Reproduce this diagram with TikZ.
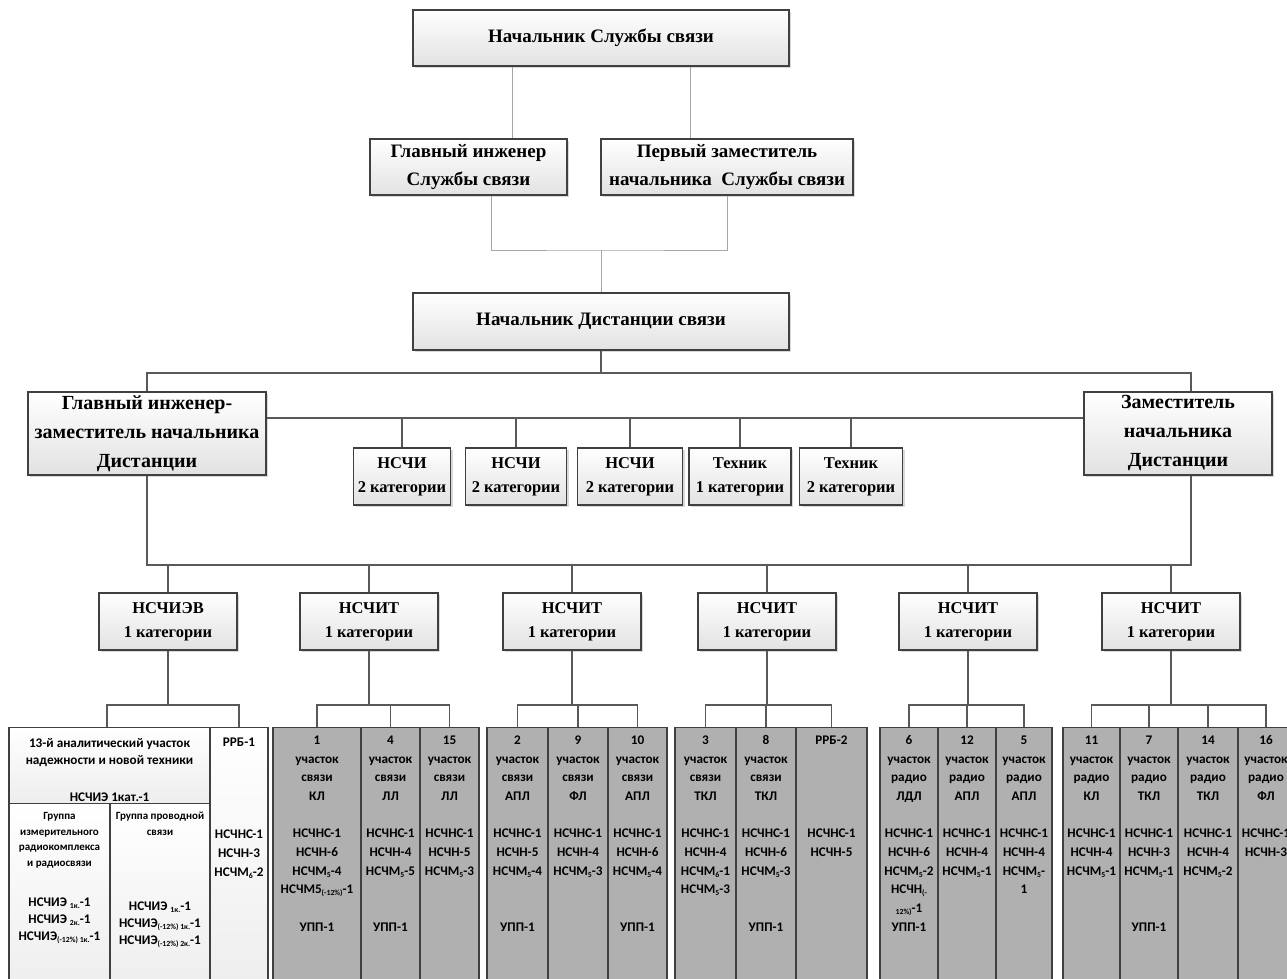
\documentclass[tikz,border=0pt]{standalone}
\usepackage{fontspec}
\setmainfont{Liberation Serif}
\newfontfamily\calfont{Carlito}
\usetikzlibrary{positioning,shadows}
\definecolor{frame}{HTML}{404040}
\definecolor{wire}{HTML}{595959}
\definecolor{lightwire}{HTML}{A6A6A6}
\definecolor{boxbot}{HTML}{E2E2E2}
\definecolor{colgray}{HTML}{B0B0B0}
\newcommand\lo[1]{\raisebox{-0.3ex}{\fontsize{7.8}{8}\selectfont #1}}

\tikzset{
  post/.style={draw=frame,line width=1.5pt,top color=white,bottom color=boxbot,
    drop shadow={shadow xshift=2pt,shadow yshift=-2pt,opacity=0.3},
    align=center,inner sep=0pt,font=\bfseries\fontsize{19}{28}\selectfont},
  bigpost/.style={post,font=\bfseries\fontsize{20}{29}\selectfont,minimum height=83pt},
  small/.style={post,font=\bfseries\fontsize{16.5}{24}\selectfont,minimum height=57pt},
  ln/.style={draw=wire,line width=1.5pt},
  lnthin/.style={draw=lightwire,line width=1pt},
  col/.style={draw=frame,line width=1.2pt,fill=colgray,minimum height=270pt,anchor=north,inner sep=0pt},
  wcol/.style={col,fill=none,top color=white,bottom color=white!93!black},
  coltxt/.style={font=\calfont\bfseries\fontsize{13.2}{18.7}\selectfont,align=center,inner sep=0pt},
  % text anchored at the baseline of its last line, k = index of that line
  coltop/.style={coltxt,anchor=base,yshift=-17.3pt-18.7pt*#1},
  hdtxt/.style={font=\calfont\bfseries\fontsize{11}{15.7}\selectfont,align=center,inner sep=0pt},
}

\begin{document}
\begin{tikzpicture}[x=1pt,y=-1pt]
\useasboundingbox (0,0) rectangle (1287,979);

% upper part
\node[post,minimum width=376pt,minimum height=56pt] (nss) at (601,38) {Начальник Службы связи};
\node[post,minimum width=197pt,minimum height=56pt] (gis) at (468.5,167) {Главный инженер\\Службы связи};
\node[post,minimum width=252pt,minimum height=56pt] (pz) at (727,167) {Первый заместитель\\начальника\ \ Службы связи};
\node[post,minimum width=376pt,minimum height=57pt] (nds) at (601,321.5) {Начальник Дистанции связи};

\draw[lnthin] ([xshift=43.5pt]gis.north) -- ([xshift=43.5pt]gis.north |- nss.south);
\draw[lnthin] ([xshift=-37pt]pz.north) -- ([xshift=-37pt]pz.north |- nss.south);
\coordinate (j1) at (601,250);
\draw[lnthin] ([xshift=22.5pt]gis.south) |- (j1) -| (pz.south);
\draw[lnthin] (j1) -- (nds.north);

% deputies and engineers
\node[bigpost,minimum width=238pt] (glz) at (147,433.5) {Главный инженер-\\заместитель начальника\\Дистанции};
\node[bigpost,minimum width=188pt] (zn) at (1178,433.5) {Заместитель\\начальника\\Дистанции};

\node[small,minimum width=97pt] (s1) at (402,476.5) {НСЧИ\\2 категории};
\node[small,minimum width=101pt] (s2) at (516,476.5) {НСЧИ\\2 категории};
\node[small,minimum width=105pt] (s3) at (630,476.5) {НСЧИ\\2 категории};
\node[small,minimum width=102pt] (s4) at (740,476.5) {Техник\\1 категории};
\node[small,minimum width=103pt] (s5) at (851,476.5) {Техник\\2 категории};

\coordinate (b1) at (0,373);
\coordinate (b2) at (0,418);
\coordinate (b3) at (0,565);
\coordinate (b4) at (0,705);
\draw[ln] (nds.south) -- (nds.south |- b1);
\draw[ln] (glz.north) |- ([xshift=13pt]zn.north |- b1) -- ([xshift=13pt]zn.north);
\draw[ln] ([yshift=15.5pt]glz.east) -- ([yshift=15.5pt]zn.west);
\foreach \i in {1,...,5} \draw[ln] (s\i.north) -- (s\i.north |- b2);

% heads of sections
\node[small,minimum width=138pt] (t1) at (168,621.5) {НСЧИЭВ\\1 категории};
\node[small,minimum width=138pt] (t2) at (369,621.5) {НСЧИТ\\1 категории};
\node[small,minimum width=138pt] (t3) at (572,621.5) {НСЧИТ\\1 категории};
\node[small,minimum width=138pt] (t4) at (767,621.5) {НСЧИТ\\1 категории};
\node[small,minimum width=138pt] (t5) at (968,621.5) {НСЧИТ\\1 категории};
\node[small,minimum width=138pt] (t6) at (1171,621.5) {НСЧИТ\\1 категории};

\draw[ln] (glz.south) |- ([xshift=13pt]zn.south |- b3) -- ([xshift=13pt]zn.south);
\foreach \i in {1,...,6} \draw[ln] (t\i.north) -- (t\i.north |- b3);
\foreach \i in {1,...,6} \draw[ln] (t\i.south) -- (t\i.south |- b4);

% group 1
\node[wcol,minimum width=201pt,minimum height=76pt] (g1top) at (109.5,727) {};
\node[wcol,minimum width=101pt,minimum height=194pt] (g1l) at (59.5,803) {};
\node[wcol,minimum width=100pt,minimum height=194pt] (g1r) at (160,803) {};
\node[wcol,minimum width=58pt] (g1b) at (239,727) {};
\node[coltxt,below=11pt of g1top.north,font=\calfont\bfseries\fontsize{13.2}{17.5}\selectfont] {13-й аналитический участок\\надежности и новой техники\\[19pt]НСЧИЭ 1кат.-1};
\node[hdtxt,below=9pt of g1l.north] {Группа\\измерительного\\радиокомплекса\\и радиосвязи};
\node[coltxt,below=95pt of g1l.north,font=\calfont\bfseries\fontsize{13.2}{17}\selectfont] {НСЧИЭ \lo{1к.}-1\\НСЧИЭ \lo{2к.}-1\\НСЧИЭ\lo{(-12\%) 1к.}-1};
\node[hdtxt,below=9pt of g1r.north] {Группа проводной\\связи};
\node[coltxt,below=99pt of g1r.north,font=\calfont\bfseries\fontsize{13.2}{17}\selectfont] {НСЧИЭ \lo{1к.}-1\\НСЧИЭ\lo{(-12\%) 1к.}-1\\НСЧИЭ\lo{(-12\%) 2к.}-1};
\node[coltxt,below=11pt of g1b.north] {РРБ-1};
\node[coltxt,below=103pt of g1b.north] {НСЧНС-1\\НСЧН-3\\НСЧМ\lo{6}-2};
\draw[ln] ([xshift=-2.5pt]g1top.north) |- (g1b.north |- b4) -- (g1b.north);

% group 2
\node[col,minimum width=88pt] (c21) at (317,727) {};
\node[col,minimum width=59pt] (c22) at (390.5,727) {};
\node[col,minimum width=59pt] (c23) at (449.5,727) {};
\node[coltop=10] at (c21.north) {1\\участок\\связи\\КЛ\\[18.7pt]НСЧНС-1\\НСЧН-6\\НСЧМ\lo{5}-4\\НСЧМ5\lo{(-12\%)}-1\\[18.7pt]УПП-1};
\node[coltop=10] at (c22.north) {4\\участок\\связи\\ЛЛ\\[18.7pt]НСЧНС-1\\НСЧН-4\\НСЧМ\lo{5}-5\\[37.4pt]УПП-1};
\node[coltop=7] at (c23.north) {15\\участок\\связи\\ЛЛ\\[18.7pt]НСЧНС-1\\НСЧН-5\\НСЧМ\lo{5}-3};
\draw[ln] (c21.north) |- (c23.north |- b4) -- (c23.north);
\draw[ln] (c22.north) -- (c22.north |- b4);

% group 3
\node[col,minimum width=61pt] (c31) at (517.5,727) {};
\node[col,minimum width=60pt] (c32) at (578,727) {};
\node[col,minimum width=59pt] (c33) at (637.5,727) {};
\node[coltop=10] at (c31.north) {2\\участок\\связи\\АПЛ\\[18.7pt]НСЧНС-1\\НСЧН-5\\НСЧМ\lo{5}-4\\[37.4pt]УПП-1};
\node[coltop=7] at (c32.north) {9\\участок\\связи\\ФЛ\\[18.7pt]НСЧНС-1\\НСЧН-4\\НСЧМ\lo{5}-3};
\node[coltop=10] at (c33.north) {10\\участок\\связи\\АПЛ\\[18.7pt]НСЧНС-1\\НСЧН-6\\НСЧМ\lo{5}-4\\[37.4pt]УПП-1};
\draw[ln] (c31.north) |- (c33.north |- b4) -- (c33.north);
\draw[ln] (c32.north) -- (c32.north |- b4);

% group 4
\node[col,minimum width=61pt] (c41) at (705.5,727) {};
\node[col,minimum width=60pt] (c42) at (766,727) {};
\node[col,minimum width=71pt] (c43) at (831.5,727) {};
\node[coltop=8] at (c41.north) {3\\участок\\связи\\ТКЛ\\[18.7pt]НСЧНС-1\\НСЧН-4\\НСЧМ\lo{6}-1\\НСЧМ\lo{5}-3};
\node[coltop=10] at (c42.north) {8\\участок\\связи\\ТКЛ\\[18.7pt]НСЧНС-1\\НСЧН-6\\НСЧМ\lo{5}-3\\[37.4pt]УПП-1};
\node[coltop=6] at (c43.north) {РРБ-2\\[74.8pt]НСЧНС-1\\НСЧН-5};
\draw[ln] (c41.north) |- (c43.north |- b4) -- (c43.north);
\draw[ln] (c42.north) -- (c42.north |- b4);

% group 5
\node[col,minimum width=58pt] (c51) at (909,727) {};
\node[col,minimum width=58pt] (c52) at (967,727) {};
\node[col,minimum width=56pt] (c53) at (1024,727) {};
\node[coltop=10] at (c51.north) {6\\участок\\радио\\ЛДЛ\\[18.7pt]НСЧНС-1\\НСЧН-6\\НСЧМ\lo{5}-2\\НСЧН\lo{(-}\\\lo{12\%)}-1\\УПП-1};
\node[coltop=7] at (c52.north) {12\\участок\\радио\\АПЛ\\[18.7pt]НСЧНС-1\\НСЧН-4\\НСЧМ\lo{5}-1};
\node[coltop=8] at (c53.north) {5\\участок\\радио\\АПЛ\\[18.7pt]НСЧНС-1\\НСЧН-4\\НСЧМ\lo{5}-\\1};
\draw[ln] (c51.north) |- (c53.north |- b4) -- (c53.north);
\draw[ln] (c52.north) -- (c52.north |- b4);

% group 6
\node[col,minimum width=57pt] (c61) at (1091.5,727) {};
\node[col,minimum width=58pt] (c62) at (1149,727) {};
\node[col,minimum width=60pt] (c63) at (1208,727) {};
\node[col,minimum width=56pt] (c64) at (1266,727) {};
\node[coltop=7] at (c61.north) {11\\участок\\радио\\КЛ\\[18.7pt]НСЧНС-1\\НСЧН-4\\НСЧМ\lo{5}-1};
\node[coltop=10] at (c62.north) {7\\участок\\радио\\ТКЛ\\[18.7pt]НСЧНС-1\\НСЧН-3\\НСЧМ\lo{5}-1\\[37.4pt]УПП-1};
\node[coltop=7] at (c63.north) {14\\участок\\радио\\ТКЛ\\[18.7pt]НСЧНС-1\\НСЧН-4\\НСЧМ\lo{5}-2};
\node[coltop=6] at (c64.north) {16\\участок\\радио\\ФЛ\\[18.7pt]НСЧНС-1\\НСЧН-3};
\draw[ln] (c61.north) |- (c64.north |- b4) -- (c64.north);
\draw[ln] (c62.north) -- (c62.north |- b4);
\draw[ln] (c63.north) -- (c63.north |- b4);
\end{tikzpicture}
\end{document}
